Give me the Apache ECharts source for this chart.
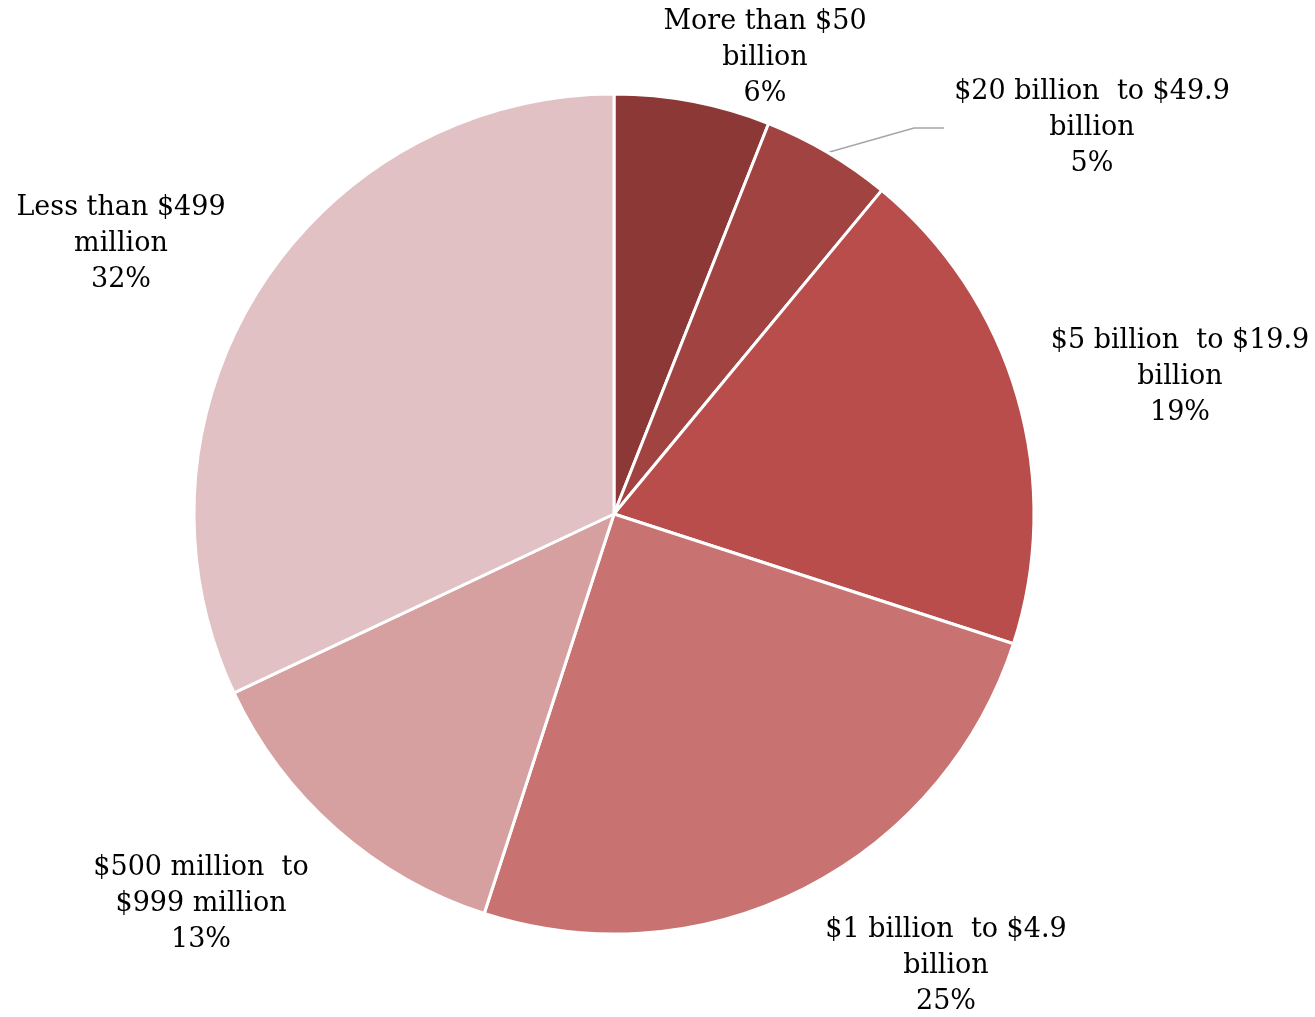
<!DOCTYPE html>
<html>
<head>
<meta charset="utf-8">
<script src="https://cdn.jsdelivr.net/npm/echarts@6/dist/echarts.min.js"></script>
<style>html,body{margin:0;padding:0;background:#fff;}#c{width:1315px;height:1017px;}</style>
</head>
<body>
<div id="c"></div>
<script>
const categories = ["More than $50\nbillion", "$20 billion  to $49.9\nbillion", "$5 billion  to $19.9\nbillion", "$1 billion  to $4.9\nbillion", "$500 million  to\n$999 million", "Less than $499\nmillion"];
const values = [6, 5, 19, 25, 13, 32];
const colors = ["#8B3836", "#A04341", "#B84D4B", "#C87372", "#D6A0A0", "#E1C1C3"];
const labelPos = [[765, 58], [1092, 128], [1180, 377], [946, 966], [201, 904], [121, 244]];

const chart = echarts.init(document.getElementById('c'), null, {renderer: 'canvas'});
chart.setOption({
  animation: false,
  series: [{
    type: 'pie',
    center: [614, 514],
    radius: 420,
    startAngle: 90,
    clockwise: true,
    data: categories.map((c, i) => ({
      name: c, value: values[i],
      itemStyle: {color: colors[i]},
      label: i === 1 ? {width: 296} : {},
      labelLine: {show: i === 1, lineStyle: {color: '#A6A6A6', width: 1.5}}
    })),
    itemStyle: {borderColor: '#fff', borderWidth: 3},
    label: {
      show: true,
      position: 'outside',
      formatter: p => p.name + '\n' + p.value + '%',
      fontFamily: 'DejaVu Serif',
      fontSize: 27,
      lineHeight: 36,
      color: '#000',
      align: 'center',
      overflow: 'none',
      width: 400
    },
    labelLine: {show: false},
    labelLayout: function (p) {
      const pos = labelPos[p.dataIndex];
      return {x: pos[0], y: pos[1], align: 'center', verticalAlign: 'middle'};
    },
    emphasis: {disabled: true}
  }]
});
</script>
</body>
</html>
